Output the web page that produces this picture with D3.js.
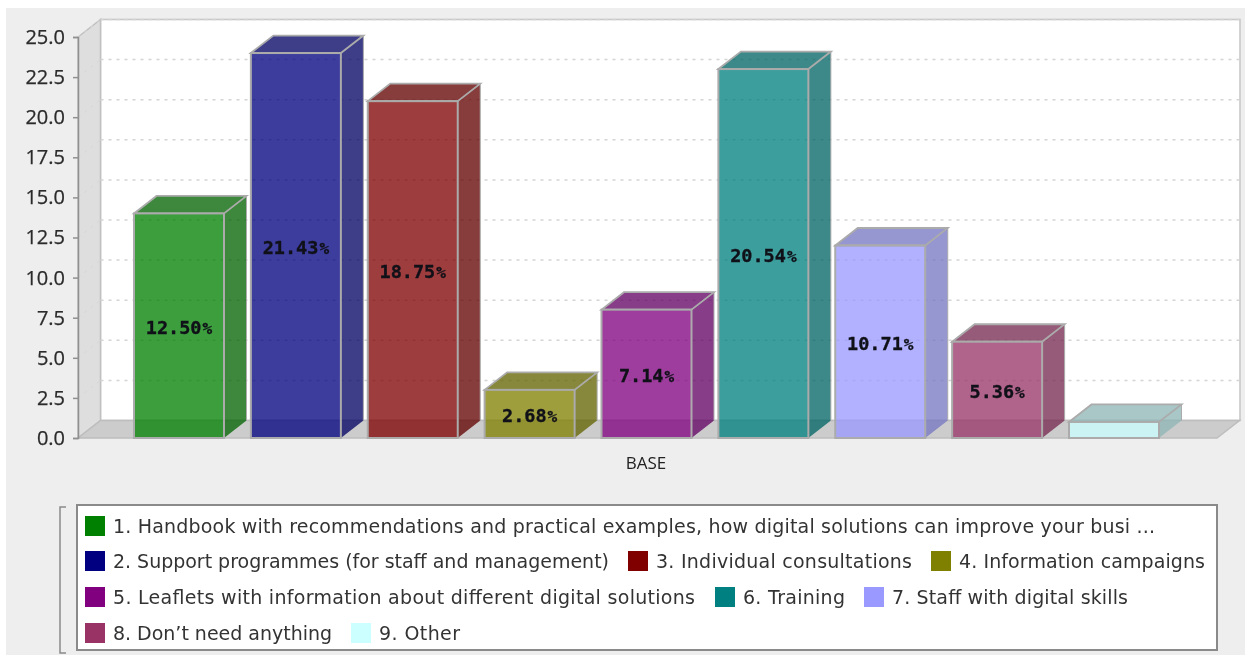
<!DOCTYPE html>
<html><head><meta charset="utf-8">
<script src="https://cdnjs.cloudflare.com/ajax/libs/d3/7.8.5/d3.min.js"></script>
<style>
html,body{margin:0;padding:0;background:#fff;overflow:hidden}
svg{display:block;filter:blur(0.6px)}
</style></head><body>
<svg id="c" width="1245" height="655"></svg>
<script>
const categories = ["1","2","3","4","5","6","7","8","9"];
const counts = [14, 24, 21, 3, 8, 23, 12, 6, 1];
const percentLabels = ["12.50","21.43","18.75","2.68","7.14","20.54","10.71","5.36",null];
const seriesColors = ["#008000","#000080","#800000","#808000","#800080","#008080","#9999ff","#993366","#ccffff"];
const legendNames = [
 "1. Handbook with recommendations and practical examples, how digital solutions can improve your busi ...",
 "2. Support programmes (for staff and management)",
 "3. Individual consultations",
 "4. Information campaigns",
 "5. Leaflets with information about different digital solutions",
 "6. Training",
 "7. Staff with digital skills",
 "8. Don\u2019t need anything",
 "9. Other"];
const yTicks = [0,2.5,5,7.5,10,12.5,15,17.5,20,22.5,25];
const xAxisTitle = "BASE";

// legend layout (separate from the data): row centre, swatch left, text width
const legendLayout = [
 [526,85,1042],[561,85,496],[561,628,256],[561,931,246],
 [597,85,582],[597,715,102],[597,864,236],[633,85,219],[633,351,81]];

const svg = d3.select("#c");
const DX = 22.5, DY = 17.5;
const left = 78, right = 1217;
const y = d3.scaleLinear().domain([0,25]).range([438,37]);
const x = d3.scaleBand().domain(categories).range([134,1159]).paddingInner(0.23).paddingOuter(0);
const sans = "'DejaVu Sans', sans-serif";

svg.append("rect").attr("x",6).attr("y",8).attr("width",1239).attr("height",647).attr("fill","#eeeeee");

// back wall
svg.append("rect").attr("x",left+DX).attr("y",y(25)-DY).attr("width",right-left+0.5).attr("height",y(0)-y(25))
  .attr("fill","#fff").attr("stroke","#c8c8c8").attr("stroke-width",1.6);
// left wall
svg.append("path").attr("d",d3.line()([[left,y(0)],[left,y(25)],[left+DX,y(25)-DY],[left+DX,y(0)-DY]])+"Z")
  .attr("fill","#dedede").attr("stroke","#c0c0c0").attr("stroke-width",1.5);
// floor
svg.append("path").attr("d",d3.line()([[left,y(0)],[left+DX,y(0)-DY],[right+DX,y(0)-DY],[right,y(0)]])+"Z")
  .attr("fill","#cccccc").attr("stroke","#bdbdbd").attr("stroke-width",1.5);

// grid
const grid = svg.append("g");
yTicks.slice(1).forEach(t=>{
  grid.append("line").attr("x1",left+DX).attr("x2",right+DX).attr("y1",y(t)-DY).attr("y2",y(t)-DY)
    .attr("stroke","#d4d4d4").attr("stroke-width",1.5).attr("stroke-dasharray","3 5");
  grid.append("line").attr("x1",left).attr("x2",left+DX).attr("y1",y(t)).attr("y2",y(t)-DY)
    .attr("stroke","#d6d6d6").attr("stroke-width",1).attr("stroke-dasharray","3 5");
});

// bars
const bars = svg.append("g").selectAll("g").data(categories).join("g");
const OP = 0.76, EDGE = "#ababab";
bars.each(function(c,i){
  const g = d3.select(this), v = counts[i], col = seriesColors[i];
  const x0 = x(c), x1 = x0 + x.bandwidth(), yt = y(v), yb = y(0);
  const dark = d3.color(col).darker(0.75).formatHex();
  const sideCol = i===8 ? "#8fb5b5" : dark;
  g.append("path").attr("d",d3.line()([[x1,yb],[x1,yt],[x1+DX,yt-DY],[x1+DX,yb-DY]])+"Z")
    .attr("fill",sideCol).attr("fill-opacity",OP).attr("stroke","none");
  g.append("path").attr("d",d3.line()([[x0,yt],[x0+DX,yt-DY],[x1+DX,yt-DY],[x1,yt]])+"Z")
    .attr("fill",sideCol).attr("fill-opacity",OP).attr("stroke",EDGE).attr("stroke-width",1.8);
  g.append("line").attr("x1",x1+DX).attr("x2",x1+DX).attr("y1",yt-DY).attr("y2",yb-DY).attr("stroke",EDGE).attr("stroke-width",1);
  g.append("rect").attr("x",x0).attr("y",yt).attr("width",x.bandwidth()).attr("height",yb-yt)
    .attr("fill",col).attr("fill-opacity",OP).attr("stroke",EDGE).attr("stroke-width",2);
  if(percentLabels[i]){
    const t = g.append("text").attr("x",(x0+x1)/2).attr("y",(yt+yb)/2+8).attr("text-anchor","middle")
      .attr("font-family","'DejaVu Sans Mono', monospace").attr("font-weight","bold").attr("font-size",18.5)
      .attr("fill","#101018").attr("stroke","#101018").attr("stroke-width",0.35);
    t.append("tspan").text(percentLabels[i]);
    t.append("tspan").attr("font-size",16).attr("dx",1).text("%");
  }
});

// y axis
const ax = svg.append("g").attr("transform",`translate(${left},0)`)
  .call(d3.axisLeft(y).tickValues(yTicks).tickFormat(d3.format(".1f")).tickSize(5).tickPadding(8));
ax.selectAll("path,line").attr("stroke","#909090").attr("stroke-width",1.5);
ax.selectAll("text").attr("font-family","'Open Sans', sans-serif").attr("font-size",20).attr("fill","#2b2b2b")
  .attr("stroke","#2b2b2b").attr("stroke-width",0.25);

svg.append("text").attr("x",646).attr("y",469).attr("text-anchor","middle")
  .attr("font-family","'Open Sans', sans-serif").attr("font-size",17).attr("fill","#222").text(xAxisTitle);

// legend
svg.append("path").attr("d","M66,507H60V653H66").attr("fill","none").attr("stroke","#8a8a8a").attr("stroke-width",1.5);
svg.append("rect").attr("x",77).attr("y",505).attr("width",1140).attr("height",145)
  .attr("fill","#fff").attr("stroke","#8a8a8a").attr("stroke-width",2);
legendNames.forEach((name,i)=>{
  const [cy,sx,w] = legendLayout[i];
  svg.append("rect").attr("x",sx).attr("y",cy-10).attr("width",20).attr("height",20).attr("fill",seriesColors[i]);
  svg.append("text").attr("x",sx+28).attr("y",cy+6.5)
    .attr("font-family",sans).attr("font-size",19).attr("textLength",w).attr("lengthAdjust","spacing")
    .attr("fill","#333").text(name);
});
</script>
</body></html>
